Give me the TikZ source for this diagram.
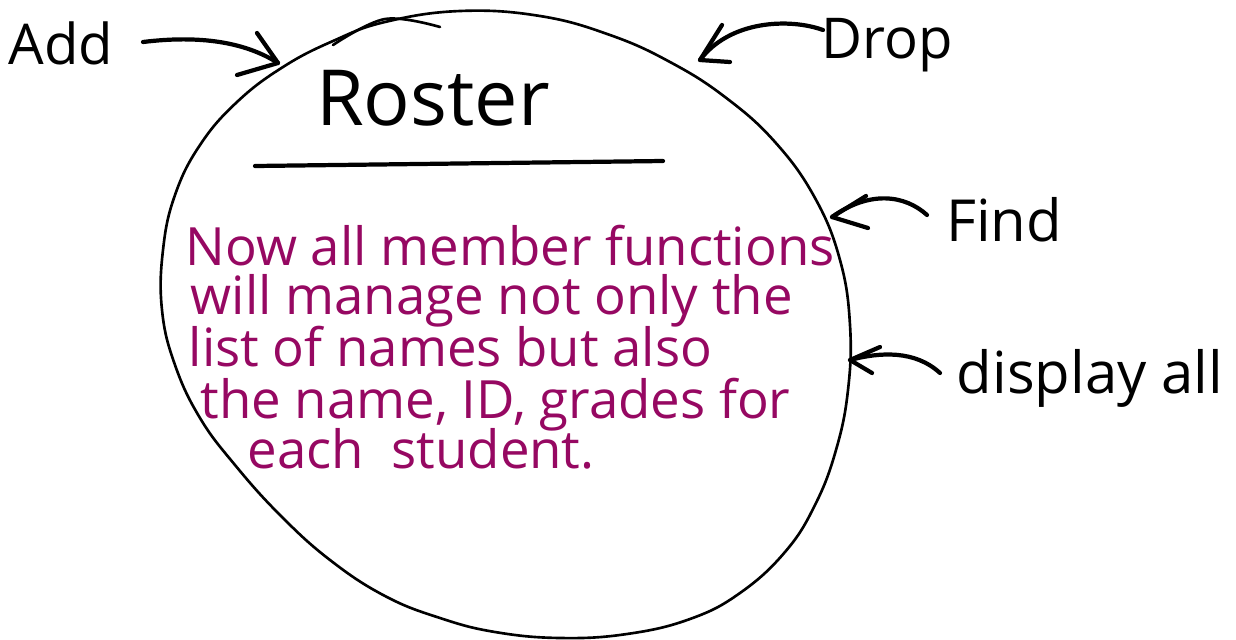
\documentclass[tikz,border=0pt]{standalone}
\usepackage{fontspec}
\setmainfont{Open Sans}
\definecolor{ink}{RGB}{150,8,98}
\begin{document}
\begin{tikzpicture}[x=0.01cm,y=-0.01cm,
  outline/.style={line width=0.75pt, line cap=round, line join=round},
  pen/.style={line width=1.2pt, line cap=round, line join=round},
  lbl/.style={inner sep=0pt},
  body/.style={inner sep=0pt, anchor=base west, text=ink, font=\fontsize{15}{18}\selectfont}]
\useasboundingbox (0,0) rectangle (1236,639);
% roster outline
\draw[outline] plot[smooth cycle, tension=0.7] coordinates {(385,22) (460,11) (540,16) (610,35) (670,62) (725,97) (775,142) (815,198) (840,260) (850,325) (848,390) (836,450) (815,505) (785,552) (740,593) (690,619) (627,634) (560,638) (495,632) (440,618) (385,596) (330,560) (280,515) (235,465) (200,418) (175,365) (162,310) (163,250) (175,195) (200,145) (237,102) (283,67) (333,41)};
\draw[outline] plot[smooth, tension=0.6] coordinates {(333,45) (385,19) (440,27)};
% title
\node[lbl, font=\fontsize{22}{26}\selectfont] (roster) at (433,98) {Roster};
\coordinate (ulA) at (255,166);
\coordinate (ulB) at (663,161);
\draw[pen] (ulA) -- (ulB);
% body
\node[body] (l1) at (185,265) {Now all member functions};
\node[body] (l2) at (190,314) {will manage not only the};
\node[body] (l3) at (188,366) {list of names but also};
\node[body] (l4) at (200,418) {the name, ID, grades for};
\node[body] (l5) at (247,468) {each\ \ student.};
% labels
\node[lbl, font=\fontsize{16}{19}\selectfont] (add) at (61,43) {Add};
\node[lbl, font=\fontsize{16}{19}\selectfont] (drop) at (887,45) {Drop};
\node[lbl, font=\fontsize{16.5}{19}\selectfont] (find) at (1004,220) {Find};
\node[lbl, font=\fontsize{16.5}{19}\selectfont] (disp) at (1090,378) {display all};
% arrows
\coordinate (addS) at (143,42);
\coordinate (addT) at (278,63);
\draw[pen] (addS) .. controls (200,35) and (245,42) .. (addT);
\draw[pen] (addT) ++(-21,-30) -- (addT) -- ++(-41,12);
\coordinate (dropS) at (823,30);
\coordinate (dropT) at (700,60);
\draw[pen] (dropS) .. controls (790,18) and (730,20) .. (dropT);
\draw[pen] (dropT) ++(22,-35) -- (dropT) -- ++(30,2);
\coordinate (findS) at (927,215);
\coordinate (findT) at (832,217);
\draw[pen] (findS) .. controls (905,195) and (870,190) .. (findT);
\draw[pen] (findT) ++(34,-21) -- (findT) -- ++(36,11);
\coordinate (dispS) at (940,373);
\coordinate (dispT) at (850,360);
\draw[pen] (dispS) .. controls (915,350) and (880,352) .. (dispT);
\draw[pen] (dispT) ++(30,-13) -- (dispT) -- ++(22,13);
\end{tikzpicture}
\end{document}
